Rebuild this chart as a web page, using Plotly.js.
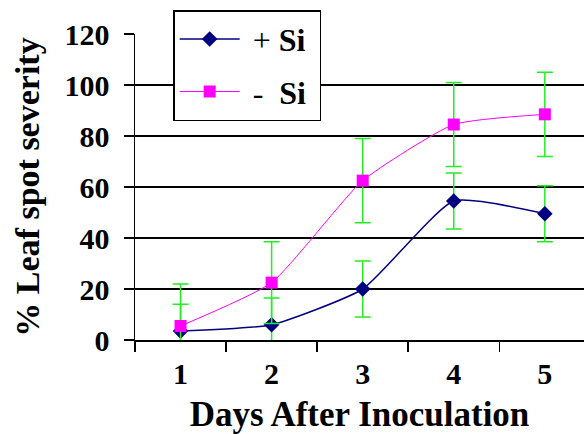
<!DOCTYPE html>
<html>
<head>
<meta charset="utf-8">
<script src="https://cdn.plot.ly/plotly-3.0.1.min.js"></script>
<style>html,body{margin:0;padding:0;background:#fff;}#chart{width:584px;height:434px;}</style>
</head>
<body>
<div id="chart"></div>
<script>
const days = ["1", "2", "3", "4", "5"];
const plusSi = [3.5, 6, 20, 54.5, 49.5];
const plusSiErr = [10.5, 10.5, 11, 11, 11];
const minusSi = [5.5, 22.5, 62.5, 84.5, 88.5];
const minusSiErr = [16.5, 16, 16.5, 16.5, 16.5];
const yTicks = [0, 20, 40, 60, 80, 100, 120];

const serif = "'Liberation Serif', 'Times New Roman', serif";
const errStyle = {type: 'data', visible: true, color: '#22ee22', thickness: 1.5, width: 8};
const bold = s => '<b>' + s + '</b>';

const traces = [
  {
    x: days, y: plusSi, name: '&nbsp;+ <b>Si</b>&nbsp;', legendgroup: 'a',
    type: 'scatter', mode: 'lines+markers',
    line: {color: '#000080', width: 1.5, shape: 'spline', smoothing: 0.5},
    marker: {symbol: 'diamond', size: 12, color: '#000080'},
    error_y: Object.assign({array: plusSiErr}, errStyle),
    cliponaxis: true
  },
  {
    x: days, y: minusSi, name: '&nbsp;-&nbsp; <b>Si</b>&nbsp;', legendgroup: 'b',
    type: 'scatter', mode: 'lines+markers',
    line: {color: '#ff00ff', width: 1, shape: 'spline', smoothing: 0.5},
    marker: {symbol: 'square', size: 12, color: '#ff00ff'},
    error_y: Object.assign({array: minusSiErr}, errStyle),
    cliponaxis: true
  }
];

const layout = {
  width: 584, height: 434,
  margin: {l: 135, r: 0, t: 34, b: 94},
  paper_bgcolor: '#ffffff', plot_bgcolor: '#ffffff',
  showlegend: true,
  legend: {
    x: 0.085, y: 1.078, xanchor: 'left', yanchor: 'top',
    bgcolor: '#ffffff', bordercolor: '#000000', borderwidth: 1.5,
    font: {family: serif, size: 32, color: '#000'},
    traceorder: 'grouped', tracegroupgap: 8, itemwidth: 60
  },
  xaxis: {
    type: 'category', range: [-0.5, 4.43],
    tickmode: 'array', tickvals: days, ticktext: days.map(bold),
    tickson: 'boundaries', ticks: 'outside', ticklen: 10, tickwidth: 1.5, tickcolor: '#000',
    ticklabelstandoff: 6,
    showline: true, linecolor: '#000', linewidth: 1.5,
    showgrid: false, zeroline: false,
    tickfont: {family: serif, size: 30, color: '#000'},
    title: {text: bold('Days After Inoculation'), font: {family: serif, size: 35, color: '#000'}, standoff: 13}
  },
  yaxis: {
    range: [0, 120], tickmode: 'array', tickvals: yTicks, ticktext: yTicks.map(v => bold(String(v))),
    ticks: 'outside', ticklen: 10, tickwidth: 1.5, tickcolor: '#000',
    ticklabelstandoff: 8,
    showline: true, linecolor: '#000', linewidth: 1.5,
    showgrid: true, gridcolor: '#000', gridwidth: 1.5, zeroline: false,
    tickfont: {family: serif, size: 30, color: '#000'},
    title: {text: bold('% Leaf spot severity'), font: {family: serif, size: 34, color: '#000'}, standoff: 14}
  }
};

Plotly.newPlot('chart', traces, layout, {displayModeBar: false, staticPlot: true});
</script>
</body>
</html>
